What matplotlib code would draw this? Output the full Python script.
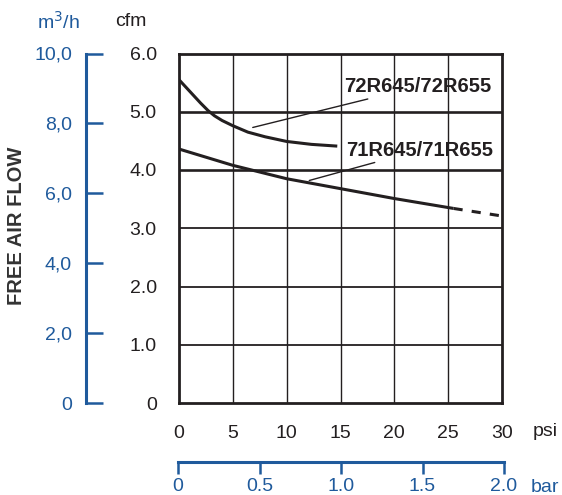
import matplotlib
matplotlib.use("Agg")
import matplotlib.pyplot as plt

plt.rcParams["font.family"] = ["Liberation Sans", "DejaVu Sans"]

INK = "#231f20"
BLUE = "#1f5a9c"

# 72R645/72R655 (psi, cfm)
psi_72 = [0, 0.6, 1.2, 2, 2.7, 3.3, 4, 5, 6.4, 8, 10, 12.3, 14.7]
cfm_72 = [5.55, 5.43, 5.31, 5.15, 5.02, 4.93, 4.85, 4.76, 4.65, 4.57, 4.49, 4.44, 4.41]

# 71R645/71R655 (psi, cfm), solid part then dashed extrapolation
psi_71 = [0, 5, 10, 15, 20, 25.5]
cfm_71 = [4.36, 4.08, 3.85, 3.68, 3.51, 3.34]
psi_71_dash = [25.5, 30]
cfm_71_dash = [3.34, 3.21]

psi_ticks = [0, 5, 10, 15, 20, 25, 30]
cfm_ticks = [0, 1, 2, 3, 4, 5, 6]
cfm_labels = ["0", "1.0", "2.0", "3.0", "4.0", "5.0", "6.0"]
m3h_ticks = [0, 2, 4, 6, 8, 10]
m3h_labels = ["0", "2,0", "4,0", "6,0", "8,0", "10,0"]
bar_ticks = [0, 0.5, 1.0, 1.5, 2.0]
bar_labels = ["0", "0.5", "1.0", "1.5", "2.0"]

W, H = 562, 495
fig = plt.figure(figsize=(W / 100, H / 100), dpi=100)


def box(x0, y0, x1, y1):
    # pixel box (top-left origin) -> figure fraction
    return [x0 / W, 1 - y1 / H, (x1 - x0) / W, (y1 - y0) / H]


ax = fig.add_axes(box(179, 53.5, 502, 403))
ax.set_xlim(0, 30)
ax.set_ylim(0, 6)

for y in cfm_ticks[1:-1]:
    ax.axhline(y, color=INK, lw=1.9 if y >= 4 else 1.3, zorder=1)
for x in psi_ticks[1:-1]:
    ax.axvline(x, color=INK, lw=1.0, zorder=1)

ax.plot(psi_72, cfm_72, color=INK, lw=2.2, solid_capstyle="butt",
        solid_joinstyle="round", zorder=3)
ax.plot(psi_71, cfm_71, color=INK, lw=2.2, solid_capstyle="butt",
        solid_joinstyle="round", zorder=3)
ax.plot(psi_71_dash, cfm_71_dash, color=INK, lw=2.2, ls=(0, (3, 3)), zorder=3)

ax.annotate("72R645/72R655", xy=(6.85, 4.73), xytext=(15.3, 5.43),
            fontsize=14.5, fontweight="bold", color=INK, va="center", ha="left",
            arrowprops=dict(arrowstyle="-", color=INK, lw=1.0, shrinkA=0, shrinkB=0))
ax.annotate("71R645/71R655", xy=(12.1, 3.82), xytext=(15.5, 4.34),
            fontsize=14.5, fontweight="bold", color=INK, va="center", ha="left",
            arrowprops=dict(arrowstyle="-", color=INK, lw=1.0, shrinkA=0, shrinkB=0))

for s in ax.spines.values():
    s.set_linewidth(2.0)
    s.set_color(INK)
ax.set_xticks(psi_ticks)
ax.set_yticks(cfm_ticks)
ax.set_yticklabels(cfm_labels)
ax.tick_params(length=0, labelsize=14, labelcolor=INK, pad=16)
fig.text(533 / W, 1 - 432 / H, "psi", fontsize=14, color=INK, va="center", ha="left")
fig.text(115 / W, 1 - 21 / H, "cfm", fontsize=14, color=INK, va="center", ha="left")

# blue m3/h axis on the far left
axm = fig.add_axes(box(86, 53.5, 90, 403))
axm.set_ylim(0, 10)
axm.set_xticks([])
for k in ["top", "right", "bottom"]:
    axm.spines[k].set_visible(False)
axm.spines["left"].set_color(BLUE)
axm.spines["left"].set_linewidth(2.2)
axm.patch.set_visible(False)
axm.set_yticks(m3h_ticks)
axm.set_yticklabels(m3h_labels)
axm.tick_params(axis="y", direction="in", length=12, width=1.8, color=BLUE,
                labelcolor=BLUE, labelsize=14, pad=10)
fig.text(37 / W, 1 - 22 / H, "m$^3$/h", fontsize=14, color=BLUE, va="center", ha="left")
fig.text(17 / W, 1 - 226 / H, "FREE AIR FLOW", fontsize=14.5, fontweight="bold",
         color="#333333", rotation=90, va="center", ha="center")

# blue bar axis at the bottom
axb = fig.add_axes(box(178, 455, 504, 462))
axb.set_xlim(0, 2.0)
axb.set_yticks([])
for k in ["top", "right", "left"]:
    axb.spines[k].set_visible(False)
axb.spines["bottom"].set_color(BLUE)
axb.spines["bottom"].set_linewidth(2.2)
axb.patch.set_visible(False)
axb.set_xticks(bar_ticks)
axb.set_xticklabels(bar_labels)
axb.tick_params(axis="x", direction="out", length=8.4, width=1.8, color=BLUE,
                labelcolor=BLUE, labelsize=14, pad=3)
fig.text(531 / W, 1 - 487 / H, "bar", fontsize=14, color=BLUE, va="center", ha="left")

fig.savefig("out.png", dpi=100)
